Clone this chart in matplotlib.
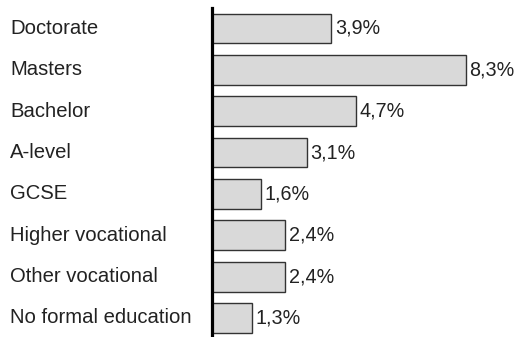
import matplotlib.pyplot as plt
import matplotlib.transforms as mtransforms

categories = ["Doctorate", "Masters", "Bachelor", "A-level", "GCSE",
              "Higher vocational", "Other vocational", "No formal education"]
values = [3.9, 8.3, 4.7, 3.1, 1.6, 2.4, 2.4, 1.3]
value_labels = ["3,9%", "8,3%", "4,7%", "3,1%", "1,6%", "2,4%", "2,4%", "1,3%"]

plt.rcParams['font.family'] = ['Liberation Sans', 'DejaVu Sans']

fig = plt.figure(figsize=(5.16, 3.37), dpi=100)
ax = fig.add_axes([212/516, 0, (516-212)/516, 329/337])

pos = list(range(len(categories)))
ax.barh(pos, values, height=0.72, color="#d9d9d9", edgecolor="#333333", linewidth=1)

ax.set_xlim(0, 9.93)
ax.set_ylim(7.46, -0.494)

# etiquetas dos valores
for p, v, lab in zip(pos, values, value_labels):
    ax.annotate(lab, (v, p), xytext=(2.5, 0), textcoords="offset points",
                va="center", ha="left", fontsize=14.2, color="#222222")

# nomes das categorias
trans = mtransforms.blended_transform_factory(fig.transFigure, ax.transData)
for p, c in zip(pos, categories):
    ax.text(10/516, p, c, transform=trans, va="center", ha="left",
            fontsize=14.6, color="#222222")

for s in ["top", "right", "bottom"]:
    ax.spines[s].set_visible(False)
ax.spines["left"].set_linewidth(2.3)
ax.spines["left"].set_color("black")
ax.set_xticks([])
ax.set_yticks([])

plt.savefig("out.png", dpi=100)
